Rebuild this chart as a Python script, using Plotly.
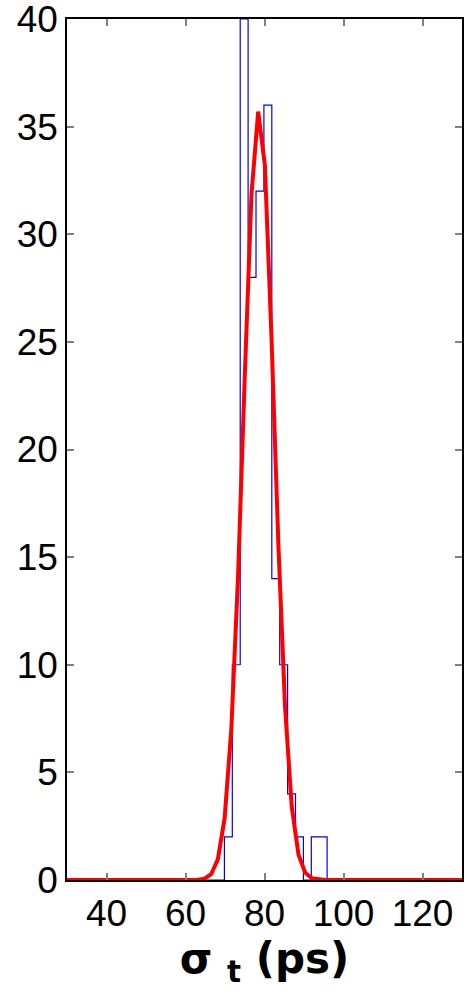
import plotly.graph_objects as go

# Histogram (stairs) data
bin_edges = [69.85, 71.85, 73.85, 75.85, 77.85, 79.85, 81.85, 83.85,
             85.85, 87.85, 89.85, 91.85, 93.85, 95.85]
counts = [2, 10, 40, 28, 32, 36, 14, 10, 4, 2, 0, 2, 2]

# Fitted curve
fit_x = [30, 59.7, 61.4, 63.1, 64.8, 66.5, 68.2, 69.9, 71.6, 73.3, 75.0, 76.7,
         78.4, 80.1, 81.8, 83.5, 85.2, 86.9, 88.6, 90.3, 92.0, 93.7, 95.4, 97.1, 130]
fit_y = [0, 0, 0.0, 0.01, 0.06, 0.27, 0.97, 2.86, 7.01, 14.11, 23.37, 31.85,
         35.7, 33.2, 25.04, 15.64, 8.04, 3.40, 1.19, 0.34, 0.08, 0.02, 0, 0, 0]

x_ticks = [40, 60, 80, 100, 120]
y_ticks = [0, 5, 10, 15, 20, 25, 30, 35, 40]

stair_x = [30] + bin_edges + [130]
stair_y = [0] + counts + [0, 0]

fig = go.Figure()
fig.add_trace(go.Scatter(x=stair_x, y=stair_y, mode="lines",
                         line=dict(shape="hv", color="#0000FF", width=1.2),
                         showlegend=False, hoverinfo="skip"))
fig.add_trace(go.Scatter(x=fit_x, y=fit_y, mode="lines",
                         line=dict(color="#FF0000", width=4),
                         showlegend=False, hoverinfo="skip"))

axis_common = dict(showline=True, linecolor="black", linewidth=1.5, mirror="ticks",
                   ticks="inside", ticklen=7, tickcolor="#808080", tickwidth=1.5,
                   showgrid=False, zeroline=False, automargin=False,
                   tickfont=dict(family="Liberation Sans, Arial", size=37, color="black"))

fig.update_layout(
    width=467, height=998,
    margin=dict(l=67, r=5, t=19, b=118),
    paper_bgcolor="white", plot_bgcolor="white",
    xaxis=dict(range=[30, 130], tickvals=x_ticks, ticktext=[str(v) for v in x_ticks],
               title=dict(text="<b>σ <sub>t</sub> (ps)</b>",
                          font=dict(family="DejaVu Sans", size=42, color="black"),
                          standoff=8),
               **axis_common),
    yaxis=dict(range=[0, 40.0005], tickvals=y_ticks, ticktext=[str(v) for v in y_ticks],
               ticklabeloverflow="allow",
               **axis_common),
)

fig.write_html("out.html")
